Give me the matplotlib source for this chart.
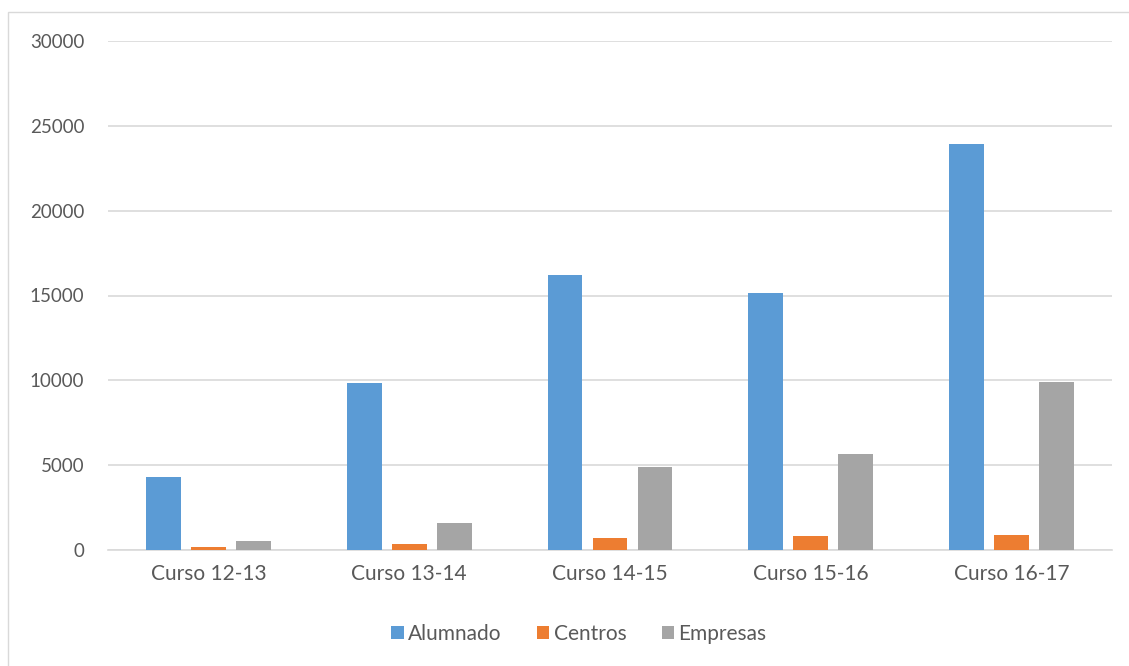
import matplotlib.pyplot as plt
import numpy as np
from matplotlib.patches import Rectangle

cursos = ['Curso 12-13', 'Curso 13-14', 'Curso 14-15', 'Curso 15-16', 'Curso 16-17']
alumnado = [4300, 9830, 16200, 15150, 23950]
centros = [160, 380, 730, 850, 885]
empresas = [510, 1575, 4895, 5640, 9930]

series = [('Alumnado', alumnado, '#5B9BD5'),
          ('Centros', centros, '#ED7D31'),
          ('Empresas', empresas, '#A5A5A5')]

text_color = '#595959'
plt.rcParams['font.family'] = ['Lato', 'DejaVu Sans']

fig = plt.figure(figsize=(11.29, 6.66), dpi=100)
# chart border
fig.patches.append(Rectangle((8 / 1129, -0.05), 1.0, 1.05 - 12 / 666,
                             transform=fig.transFigure, fill=False,
                             edgecolor='#D9D9D9', linewidth=1))
ax = fig.add_axes([108 / 1129, 1 - 550 / 666, 1004 / 1129, 509 / 666])

x = np.arange(len(cursos))
w = 0.174
step = 0.224
for i, (name, vals, col) in enumerate(series):
    ax.bar(x + (i - 1) * step, vals, width=w, color=col, label=name, zorder=3)

ax.set_xlim(-0.5, 4.5)
ax.set_ylim(0, 30000)
ax.set_yticks(range(0, 30001, 5000))
ax.yaxis.grid(True, color='#D9D9D9', linewidth=1.2, zorder=0)
ax.set_xticks(x)
ax.set_xticklabels(cursos, fontsize=15)
ax.tick_params(axis='y', labelsize=13.5, pad=17)
ax.tick_params(axis='both', length=0, colors=text_color)
ax.tick_params(axis='x', pad=10)
for s in ['top', 'right', 'left']:
    ax.spines[s].set_visible(False)
ax.spines['bottom'].set_color('#D9D9D9')
ax.spines['bottom'].set_linewidth(1.2)

leg = fig.legend(loc='center', bbox_to_anchor=(579 / 1129, 1 - 634 / 666), ncol=3,
                 frameon=False, fontsize=15, handlelength=0.6, handleheight=0.6,
                 handletextpad=0.2, columnspacing=1.7)
for t in leg.get_texts():
    t.set_color(text_color)

fig.savefig('out.png', dpi=100)
